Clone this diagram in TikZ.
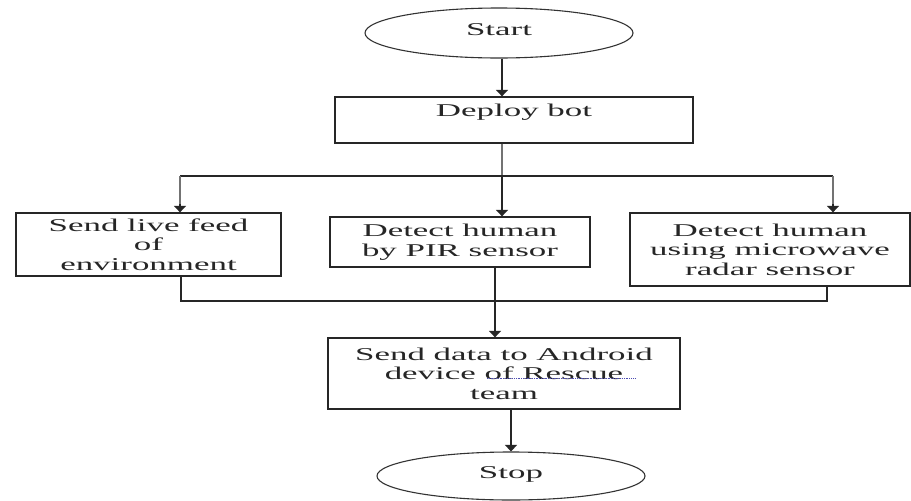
\documentclass[tikz,border=0pt]{standalone}
\usepackage{fontspec}
\setmainfont{Liberation Serif}[FakeStretch=1.94]
\usetikzlibrary{shapes.geometric,arrows.meta}

\begin{document}
\begin{tikzpicture}[x=1pt,y=-1pt,
  every node/.style={font=\fontsize{18}{19.5}\selectfont, text=black!85},
  box/.style={draw=black!85, line width=1.3pt, rectangle, inner sep=0pt, align=center},
  terminal/.style={draw=black!80, line width=1.1pt, ellipse, inner sep=0pt, text height=13pt},
  link/.style={draw=black!85, line width=1.2pt},
  drop/.style={draw=black!55, line width=2.6pt},
  flow/.style={link, -{Triangle[width=12pt,length=6.5pt]}},
]
\useasboundingbox (0,0) rectangle (911,501);
\fill[white] (0,0) rectangle (911,501);

% terminals and process boxes
\node[terminal, minimum width=268pt, minimum height=50pt, text depth=8pt] (start) at (499,33) {Start};
\node[box, minimum width=358pt, minimum height=46pt, text height=13pt, text depth=20pt] (deploy) at (514,120) {Deploy bot};
\node[box, minimum width=265pt, minimum height=63pt] (feed) at (148.5,244.5) {Send live feed\\of\\environment};
\node[box, minimum width=260pt, minimum height=50pt] (pir) at (460,242) {Detect human\\by PIR sensor};
\node[box, minimum width=280pt, minimum height=73pt] (radar) at (770,249.5) {Detect human\\using microwave\\radar sensor};
\node[box, minimum width=352pt, minimum height=71pt] (android) at (504,373.5) {Send data to Android\\device of Rescue\\team};
\node[terminal, minimum width=268pt, minimum height=48pt, text depth=9pt] (stop) at (511,476) {Stop};

% junction points of the split and merge bars
\coordinate (split) at (502,176);
\coordinate (splitL) at (180,176);
\coordinate (splitR) at (833,176);
\coordinate (mergeL) at (181,301);
\coordinate (mergeC) at (495,301);
\coordinate (mergeR) at (827,301);

% start to deploy
\draw[flow] (start.south -| split) -- (deploy.north -| split);

% split into three branches
\draw[drop] (deploy.south -| split) -- (split);
\draw[link] (splitL) -- (splitR);
\draw[flow] (split) -- (pir.north -| split);
\draw[flow] (splitL) -- (feed.north -| splitL);
\draw[drop] (splitL) -- ++(0,28);
\draw[flow] (splitR) -- (radar.north -| splitR);
\draw[drop] (splitR) -- ++(0,28);

% merge back into the reporting step
\draw[link] (feed.south -| mergeL) -- (mergeL) -- (mergeR) -- (radar.south -| mergeR);
\draw[link] (pir.south -| mergeC) -- (mergeC);
\draw[flow] (mergeC) -- (android.north -| mergeC);
\draw[flow] (android.south -| stop) -- (stop.north);

% spell-check underline below "of Rescue"
\draw[densely dotted, color=blue!40!gray, line width=0.8pt] (487,378) -- (635,378);
\end{tikzpicture}
\end{document}
